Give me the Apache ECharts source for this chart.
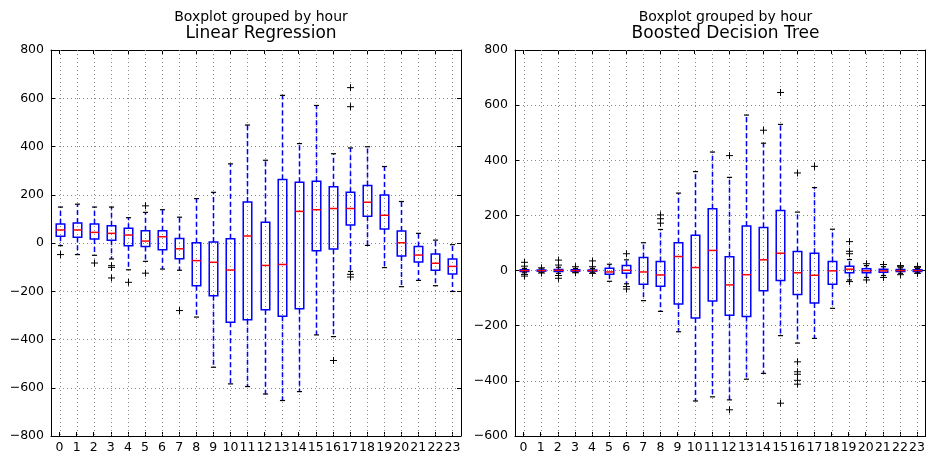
<!DOCTYPE html>
<html>
<head>
<meta charset="utf-8">
<script src="https://cdn.jsdelivr.net/npm/echarts@6/dist/echarts.min.js"></script>
<style>
html,body{margin:0;padding:0;background:#fff;}
#chart{width:928px;height:457px;}
</style>
</head>
<body>
<div id="chart"></div>
<script>
// ---- data ----
const hours = ['0','1','2','3','4','5','6','7','8','9','10','11','12','13','14','15','16','17','18','19','20','21','22','23'];
const yTicksLeft = [-800, 800, 200];
const yTicksRight = [-600, 800, 200];

// Linear Regression boxes
const lrLow  = [-11, -48, -51, -66, -111, -76, -108, -113, -307, -515, -584, -595, -626, -653, -616, -381, -388, -118, -10, -102, -181, -155, -177, -201];
const lrQ1   = [28, 24, 17, 11, -11, -14, -28, -65, -177, -219, -329, -318, -277, -304, -273, -32, -25, 75, 111, 58, -54, -79, -113, -129];
const lrMed  = [54, 54, 44, 40, 33, 8, 26, -24, -73, -80, -112, 29, -93, -89, 131, 138, 143, 143, 169, 115, 1, -50, -84, -97];
const lrQ3   = [79, 83, 79, 72, 61, 51, 51, 19, 1, 4, 18, 170, 86, 263, 252, 256, 233, 210, 238, 199, 50, -15, -46, -66];
const lrHigh = [149, 161, 149, 149, 105, 127, 138, 107, 184, 210, 328, 489, 343, 612, 412, 570, 370, 394, 399, 317, 172, 40, 12, -7];
const lrOutliers = [[0,-48],[2,-83],[3,-94],[3,-101],[3,-145],[4,-163],[5,154],[5,-125],[7,-280],[16,-487],[17,644],[17,565],[17,-130],[17,-141]];

// Boosted Decision Tree boxes
const dtLow  = [-8, -6, -10, -6, -8, -39, -48, -109, -148, -222, -473, -458, -469, -394, -373, -236, -263, -246, -137, -34, -25, -18, -10, -8];
const dtQ1   = [-3, -2, -3, -2, -2, -13, -10, -50, -57, -121, -172, -110, -162, -167, -73, -36, -87, -118, -50, -8, -8, -6, -3, -3];
const dtMed  = [0, 0, 1, 0, 0, -5, 1, -5, -16, 51, 11, 73, -52, -15, 39, 63, -8, -17, -1, 5, -1, -1, 0, 0];
const dtQ3   = [3, 2, 4, 3, 2, 8, 18, 47, 33, 101, 128, 224, 50, 162, 156, 218, 69, 63, 33, 16, 7, 5, 4, 3];
const dtHigh = [8, 6, 12, 8, 8, 23, 39, 101, 149, 281, 359, 430, 338, 564, 462, 530, 212, 301, 150, 40, 18, 14, 10, 8];
const dtOutliers = [[0,30],[0,16],[0,-14],[0,-20],[1,10],[1,-9],[2,38],[2,20],[2,-18],[2,-28],[3,14],[3,-8],[4,35],[4,14],[4,-10],
  [6,61],[6,-58],[6,-67],[8,172],[8,188],[8,202],[12,417],[12,-505],[14,509],[15,646],[15,-481],
  [16,354],[16,-331],[16,-367],[16,-376],[16,-398],[16,-412],[17,378],[19,105],[19,70],[19,61],[19,-40],
  [20,25],[20,-34],[21,22],[21,-25],[22,18],[22,14],[22,-15],[23,15],[23,12],[23,-10]];

const titles = ['Linear Regression', 'Boosted Decision Tree'];
const suptitle = 'Boxplot grouped by hour';

// ---- build ----
const FONT = 'DejaVu Sans';
function boxData(lo, q1, md, q3, hi) {
  return hours.map((h, i) => [i, lo[i], q1[i], md[i], q3[i], hi[i]]);
}
function renderVGrid(params, api) {
  const cs = params.coordSys;
  const p = api.coord([api.value(0), 0]);
  const x = Math.round(p[0]) + 0.5;
  return {type: 'line', shape: {x1: x, y1: cs.y, x2: x, y2: cs.y + cs.height},
    style: {stroke: '#888', lineWidth: 1, lineDash: [1, 3]}};
}
function renderBox(params, api) {
  const x = api.value(0);
  const lo = api.coord([x, api.value(1)]);
  const q1 = api.coord([x, api.value(2)]);
  const md = api.coord([x, api.value(3)]);
  const q3 = api.coord([x, api.value(4)]);
  const hi = api.coord([x, api.value(5)]);
  const band = api.size([1, 0])[0];
  const bw = band * 0.5;
  const cw = band * 0.3;
  const cx = Math.round(q1[0]) + 0.5;
  const blue = '#0000ff';
  return {
    type: 'group',
    children: [
      {type: 'line', shape: {x1: cx, y1: q3[1], x2: cx, y2: hi[1]}, style: {stroke: blue, lineWidth: 1.5, lineDash: [5, 3]}},
      {type: 'line', shape: {x1: cx, y1: q1[1], x2: cx, y2: lo[1]}, style: {stroke: blue, lineWidth: 1.5, lineDash: [5, 3]}},
      {type: 'line', shape: {x1: cx - cw / 2, y1: hi[1], x2: cx + cw / 2, y2: hi[1]}, style: {stroke: '#000', lineWidth: 1.2}},
      {type: 'line', shape: {x1: cx - cw / 2, y1: lo[1], x2: cx + cw / 2, y2: lo[1]}, style: {stroke: '#000', lineWidth: 1.2}},
      {type: 'rect', shape: {x: cx - bw / 2, y: q3[1], width: bw, height: q1[1] - q3[1]}, style: {fill: 'none', stroke: blue, lineWidth: 1.5}},
      {type: 'line', shape: {x1: cx - bw / 2, y1: md[1], x2: cx + bw / 2, y2: md[1]}, style: {stroke: '#ff0000', lineWidth: 1.5}}
    ]
  };
}
function renderOut(params, api) {
  const p = api.coord([api.value(0), api.value(1)]);
  const s = 3.5;
  const x = Math.round(p[0]) + 0.5;
  return {
    type: 'group',
    children: [
      {type: 'line', shape: {x1: x - s, y1: p[1], x2: x + s, y2: p[1]}, style: {stroke: '#000', lineWidth: 1}},
      {type: 'line', shape: {x1: x, y1: p[1] - s, x2: x, y2: p[1] + s}, style: {stroke: '#000', lineWidth: 1}}
    ]
  };
}
const minusFmt = v => String(v).replace('-', '\u2212');
const gridDefs = [
  {left: 51, right: 467, top: 50, bottom: 21},
  {left: 515, right: 2, top: 50, bottom: 21}
];
const yRanges = [yTicksLeft, yTicksRight];
const xAxes = [], yAxes = [], series = [], title = [];
gridDefs.forEach((g, gi) => {
  const cx = g.left + (928 - g.left - g.right) / 2;
  title.push({text: suptitle, left: cx, textAlign: 'center', top: 5,
    textStyle: {fontFamily: FONT, fontSize: 14, fontWeight: 'normal', color: '#000'}});
  title.push({text: titles[gi], left: cx, textAlign: 'center', top: 20,
    textStyle: {fontFamily: FONT, fontSize: 17, fontWeight: 'normal', color: '#000'}});
  xAxes.push({
    type: 'category', gridIndex: gi, data: hours, position: 'bottom',
    axisLine: {show: true, onZero: false, lineStyle: {color: '#000', width: 1}},
    axisTick: {show: true, inside: true, length: 4, alignWithLabel: true, lineStyle: {color: '#000'}},
    axisLabel: {show: true, interval: 0, margin: 5, fontFamily: FONT, fontSize: 12.5, color: '#000'},
    splitLine: {show: false}
  });
  xAxes.push({
    type: 'category', gridIndex: gi, data: hours, position: 'top',
    axisLine: {show: true, onZero: false, lineStyle: {color: '#000', width: 1}},
    axisTick: {show: true, inside: true, length: 4, alignWithLabel: true, lineStyle: {color: '#000'}},
    axisLabel: {show: false}, splitLine: {show: false}
  });
  const r = yRanges[gi];
  yAxes.push({
    type: 'value', gridIndex: gi, min: r[0], max: r[1], interval: r[2], position: 'left',
    axisLine: {show: true, onZero: false, lineStyle: {color: '#000', width: 1}},
    axisTick: {show: true, inside: true, length: 4, lineStyle: {color: '#000'}},
    axisLabel: {show: true, margin: 7, fontFamily: FONT, fontSize: 12.5, color: '#000', formatter: minusFmt},
    splitLine: {show: true, lineStyle: {color: '#888', type: [1, 3], width: 1}}
  });
  yAxes.push({
    type: 'value', gridIndex: gi, min: r[0], max: r[1], interval: r[2], position: 'right',
    axisLine: {show: true, onZero: false, lineStyle: {color: '#000', width: 1}},
    axisTick: {show: true, inside: true, length: 4, lineStyle: {color: '#000'}},
    axisLabel: {show: false}, splitLine: {show: false}
  });
});
const lrBoxes = boxData(lrLow, lrQ1, lrMed, lrQ3, lrHigh);
const dtBoxes = boxData(dtLow, dtQ1, dtMed, dtQ3, dtHigh);
[[0, lrBoxes, lrOutliers], [2, dtBoxes, dtOutliers]].forEach(([ai, boxes, outs]) => {
  series.push({type: 'custom', xAxisIndex: ai, yAxisIndex: ai, renderItem: renderVGrid,
    encode: {x: 0, y: 1}, data: boxes, z: 1, silent: true});
  series.push({type: 'custom', xAxisIndex: ai, yAxisIndex: ai, renderItem: renderBox,
    encode: {x: 0, y: [1, 2, 3, 4, 5]}, data: boxes, z: 3});
  series.push({type: 'custom', xAxisIndex: ai, yAxisIndex: ai, renderItem: renderOut,
    encode: {x: 0, y: 1}, data: outs, z: 4});
});

const chart = echarts.init(document.getElementById('chart'), null, {renderer: 'canvas'});
chart.setOption({
  animation: false,
  backgroundColor: '#fff',
  title: title,
  grid: gridDefs,
  xAxis: xAxes,
  yAxis: yAxes,
  series: series
});
</script>
</body>
</html>
